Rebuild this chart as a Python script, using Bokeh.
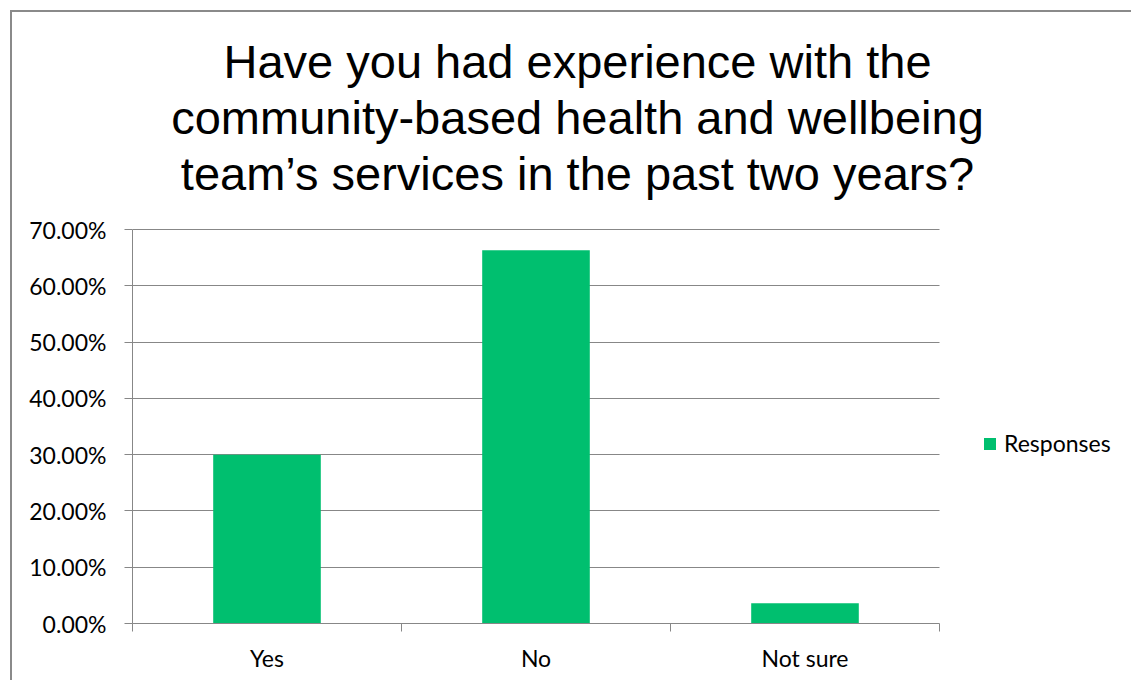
from bokeh.plotting import figure
from bokeh.models import (ColumnDataSource, FixedTicker, NumeralTickFormatter, Label,
                          Legend, LegendItem, Range1d)
from bokeh.embed import file_html
from bokeh.resources import INLINE

# ---- data ----
title_lines = [
    "Have you had experience with the",
    "community-based health and wellbeing",
    "team\u2019s services in the past two years?",
]
categories = ["Yes", "No", "Not sure"]
responses = [0.300, 0.663, 0.036]
y_ticks = [0.0, 0.1, 0.2, 0.3, 0.4, 0.5, 0.6, 0.7]
series_name = "Responses"

BAR = "#00BF6F"
GREY = "#878787"
TICK_FONT = "Lato"
TICK_SIZE = "23px"

# ---- geometry (pixels) ----
W, H = 1121, 670
LEFT, BOTTOM = 120, 59          # space for the axes
PLOT_W, PLOT_H = 807, 394       # extent of the category / value area
FRAME_W, FRAME_H = W - LEFT, H - BOTTOM

n = len(categories)
x_end = n * FRAME_W / PLOT_W
y_end = y_ticks[-1] * FRAME_H / PLOT_H

positions = [i + 0.5 for i in range(n)]
boundaries = [float(i) for i in range(n + 1)]
src = ColumnDataSource(dict(x=positions, top=responses, cat=categories))

p = figure(width=W, height=H, output_backend="svg", toolbar_location=None,
           x_range=Range1d(0, x_end), y_range=Range1d(y_ticks[0], y_end),
           min_border_left=LEFT, min_border_right=0, min_border_top=0,
           min_border_bottom=BOTTOM)
p.styles = {"margin-left": "10px", "margin-top": "10px",
            "border-left": "2px solid #8a8a8a", "border-top": "2px solid #8a8a8a"}
p.outline_line_color = None

# grid lines limited to the plot area
p.xgrid.visible = False
grid_ok = True
try:
    p.ygrid.cross_bounds = (0, n)
except AttributeError:
    grid_ok = False
if grid_ok:
    p.ygrid.ticker = FixedTicker(ticks=y_ticks)
    p.ygrid.bounds = (y_ticks[0], y_ticks[-1])
    p.ygrid.grid_line_color = GREY
else:
    p.ygrid.visible = False
    gsrc = ColumnDataSource(dict(y=y_ticks, x0=[0] * len(y_ticks), x1=[n] * len(y_ticks)))
    p.segment(x0="x0", x1="x1", y0="y", y1="y", source=gsrc, line_color=GREY, line_width=1)

r = p.vbar(x="x", top="top", width=0.4, source=src, fill_color=BAR, line_color=None)

yax = p.yaxis[0]
yax.ticker = FixedTicker(ticks=y_ticks)
yax.bounds = (y_ticks[0], y_ticks[-1])
yax.formatter = NumeralTickFormatter(format="0.00%")
yax.axis_line_color = GREY
yax.major_tick_line_color = GREY
yax.major_tick_out = 8
yax.major_tick_in = 0
yax.minor_tick_line_color = None
yax.major_label_standoff = 18
yax.major_label_text_font = TICK_FONT
yax.major_label_text_font_size = TICK_SIZE
yax.major_label_text_color = "black"

xax = p.xaxis[0]
xax.ticker = FixedTicker(ticks=positions, minor_ticks=boundaries)
xax.bounds = (0, n)
xax.major_label_overrides = {pos: c for pos, c in zip(positions, categories)}
xax.axis_line_color = GREY
xax.major_tick_line_color = None
xax.major_tick_out = 0
xax.major_tick_in = 0
xax.minor_tick_line_color = GREY
xax.minor_tick_out = 8
xax.minor_tick_in = 0
xax.major_label_standoff = 12
xax.major_label_text_font = TICK_FONT
xax.major_label_text_font_size = TICK_SIZE
xax.major_label_text_color = "black"

# title: three centred lines
for i, line in enumerate(title_lines):
    p.add_layout(Label(x=445, y=562 - 56 * i, x_units="screen", y_units="screen",
                       text=line, text_align="center", text_baseline="alphabetic",
                       text_font="Liberation Sans", text_font_size="47px",
                       text_color="black"))

legend = Legend(items=[LegendItem(label=series_name, renderers=[r])],
                location=(850, 166), glyph_width=15, glyph_height=15,
                label_standoff=7, padding=0, margin=0, border_line_color=None,
                background_fill_alpha=0, label_text_font=TICK_FONT,
                label_text_font_size=TICK_SIZE, label_text_color="black")
p.add_layout(legend)

open("out.html", "w").write(file_html(p, INLINE))
